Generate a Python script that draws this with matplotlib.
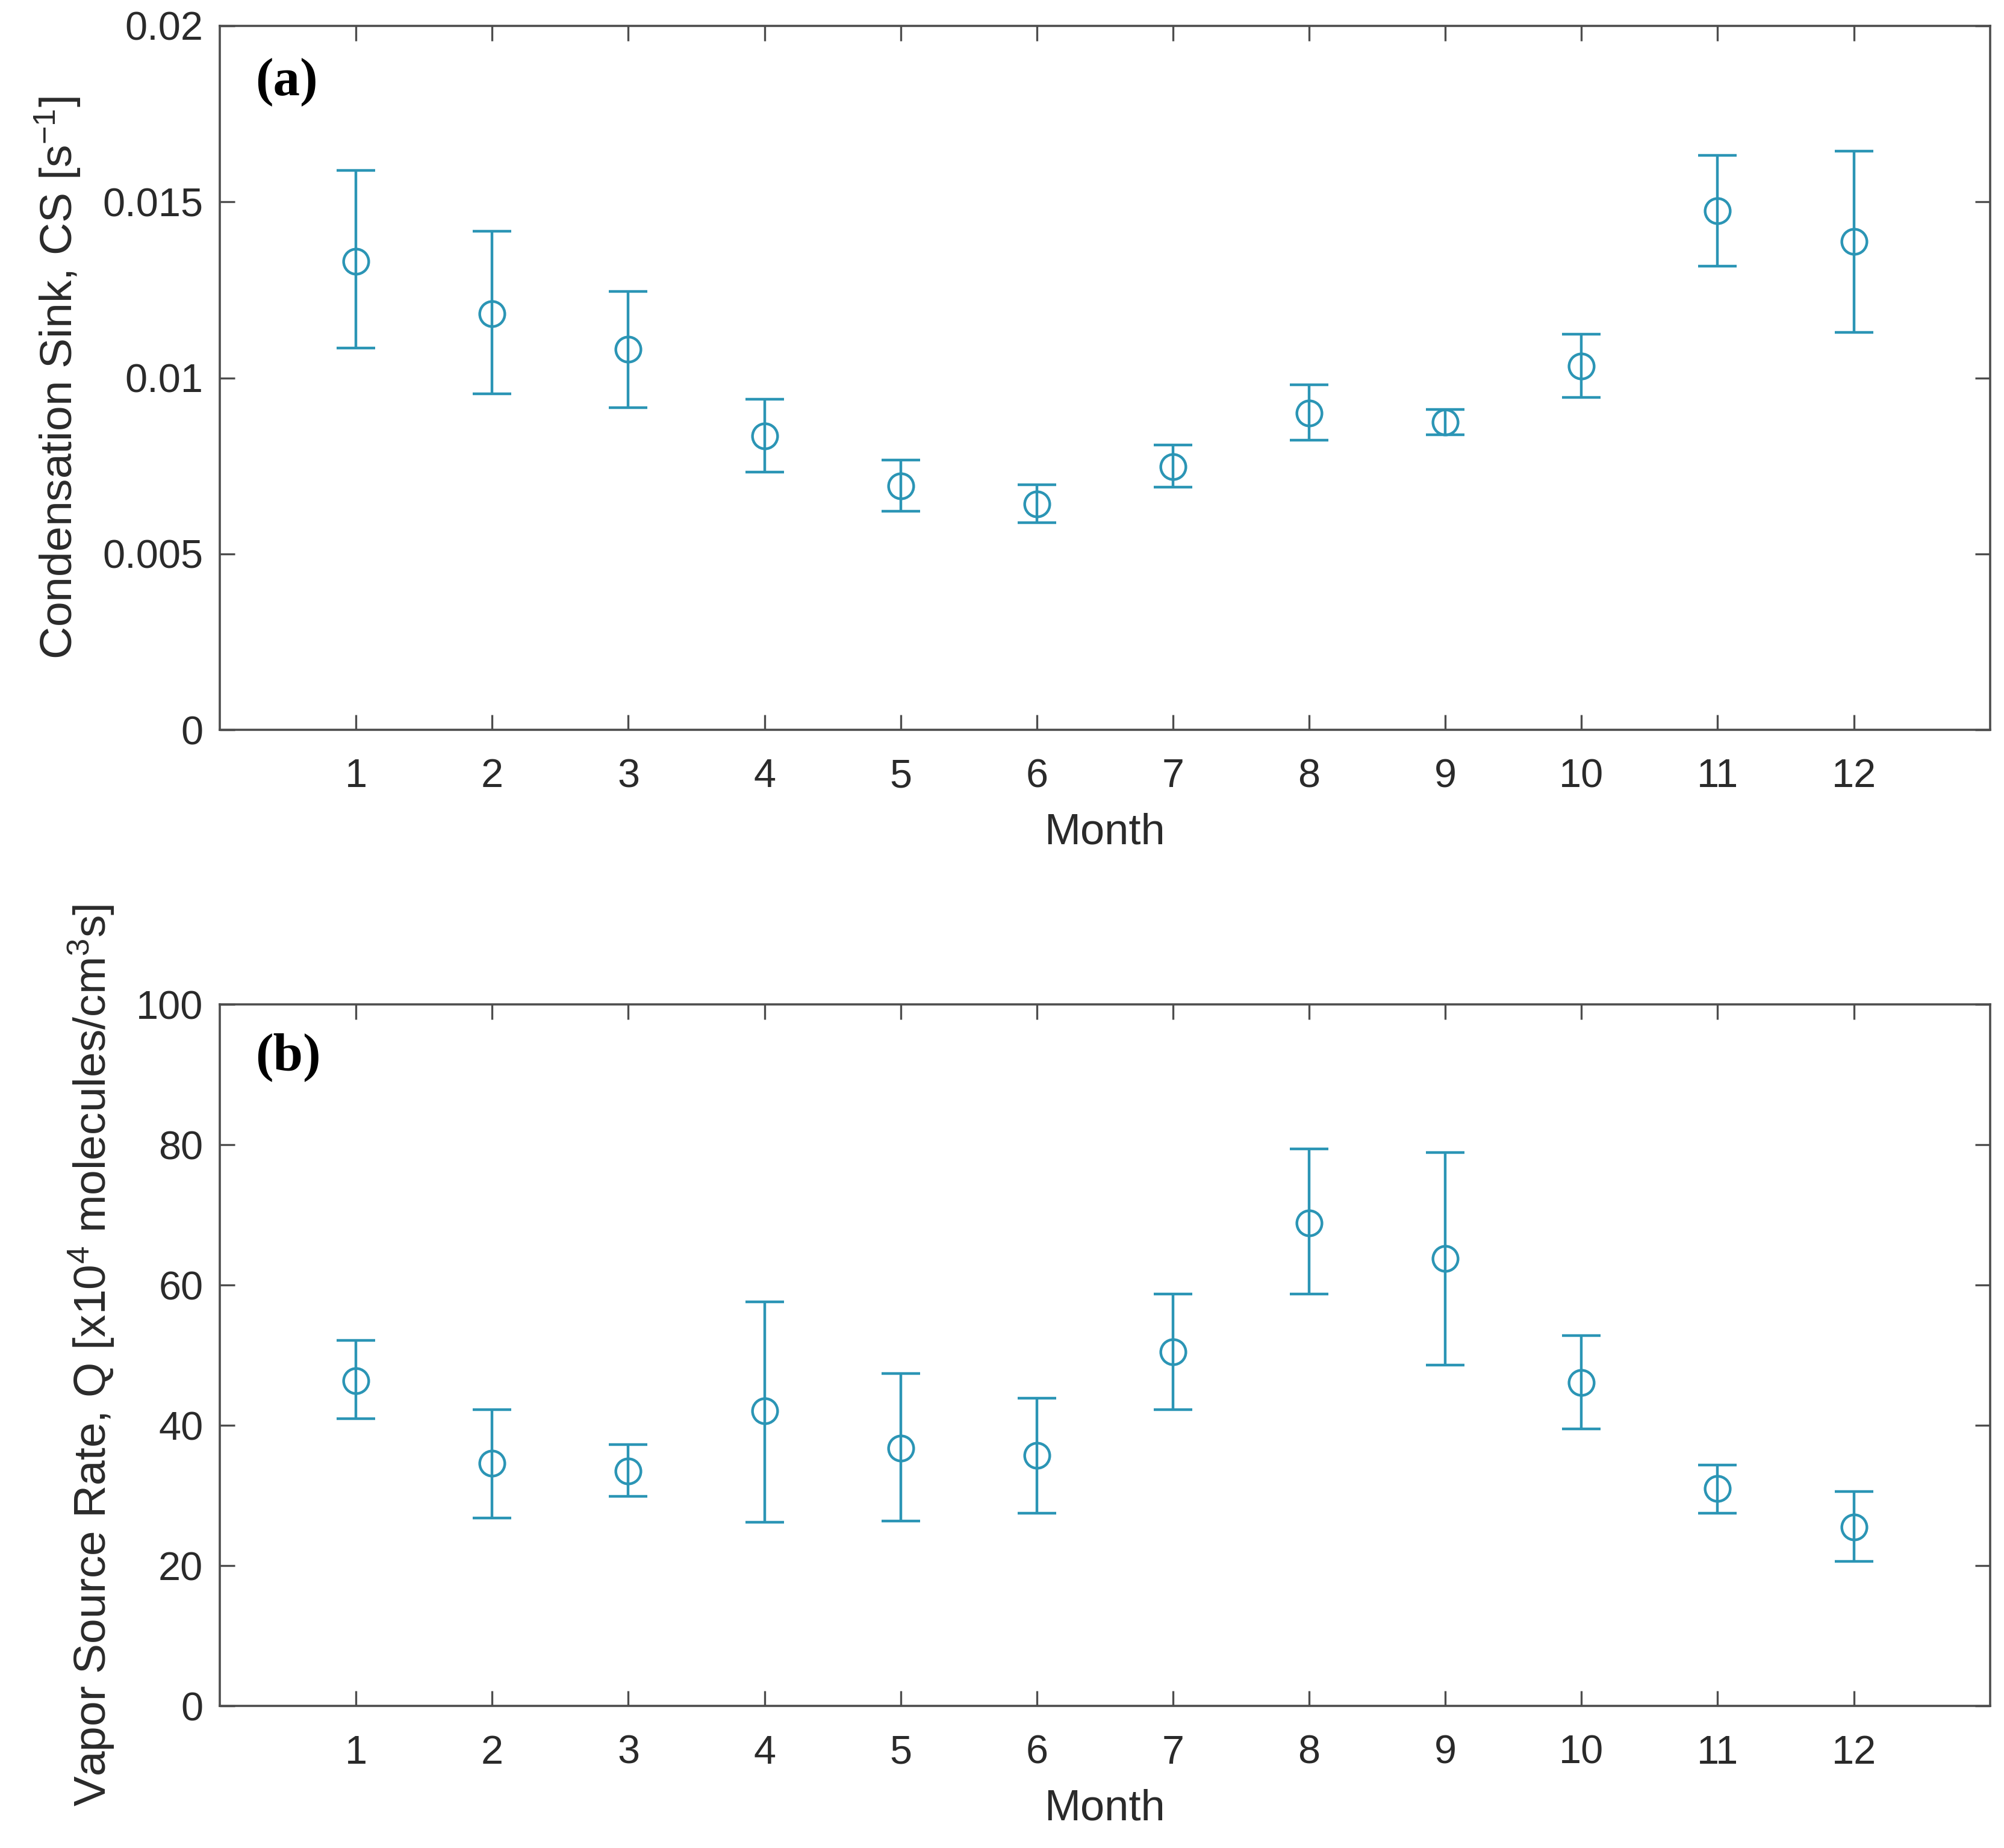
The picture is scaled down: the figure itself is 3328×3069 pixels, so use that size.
import numpy as np
import matplotlib
matplotlib.use("Agg")
from matplotlib import pyplot as plt

plt.rcParams['font.family'] = ['Liberation Sans', 'DejaVu Sans']
plt.rcParams['mathtext.default'] = 'regular'

months = [1, 2, 3, 4, 5, 6, 7, 8, 9, 10, 11, 12]

# (a) condensation sink: mean, upper, lower
cs_mean = [0.01332, 0.01183, 0.01082, 0.00835, 0.00693, 0.00642, 0.00748, 0.00900, 0.00875, 0.01034, 0.01474, 0.01387]
cs_up = [0.01590, 0.01416, 0.01245, 0.00940, 0.00766, 0.00697, 0.00810, 0.00980, 0.00911, 0.01125, 0.01633, 0.01644]
cs_low = [0.01085, 0.00955, 0.00915, 0.00733, 0.00621, 0.00588, 0.00690, 0.00824, 0.00838, 0.00944, 0.01318, 0.01129]

# (b) vapor source rate
q_mean = [46.4, 34.6, 33.5, 42.1, 36.8, 35.7, 50.5, 68.9, 63.8, 46.1, 31.0, 25.5]
q_up = [52.1, 42.3, 37.3, 57.6, 47.4, 43.9, 58.7, 79.4, 78.9, 52.8, 34.4, 30.6]
q_low = [41.0, 26.8, 29.9, 26.2, 26.4, 27.5, 42.3, 58.7, 48.6, 39.5, 27.5, 20.6]

col = '#2b95b5'
axcol = '#4d4d4d'
txtcol = '#2a2a2a'

fig = plt.figure(figsize=(16.64, 15.345), dpi=200)
ax1 = fig.add_axes([0.1097, 0.605, 0.8833, 0.381])
ax2 = fig.add_axes([0.1097, 0.0768, 0.8833, 0.3796])


def draw(ax, m, up, low):
    m = np.array(m)
    err = [m - np.array(low), np.array(up) - m]
    ax.errorbar(months, m, yerr=err, fmt='o', mfc='none', mec=col, ecolor=col,
                ms=15, mew=1.6, elinewidth=1.6, capsize=11.5, capthick=1.6)
    ax.set_xlim(0, 13)
    ax.set_xticks(months)
    ax.tick_params(direction='in', length=9, width=1.2, color=axcol, labelsize=24,
                   labelcolor=txtcol, top=True, right=True, pad=10)
    ax.tick_params(axis='x', pad=17)
    for s in ax.spines.values():
        s.set_color(axcol)
        s.set_linewidth(1.3)
    ax.set_xlabel('Month', fontsize=26, color=txtcol, labelpad=10)


draw(ax1, cs_mean, cs_up, cs_low)
ax1.set_ylim(0, 0.02)
ax1.set_yticks([0, 0.005, 0.01, 0.015, 0.02])
ax1.set_yticklabels(['0', '0.005', '0.01', '0.015', '0.02'])
ax1.set_ylabel('Condensation Sink, CS [s$^{-1}$]', fontsize=27, color=txtcol, labelpad=12)
ax1.text(0.02, 0.955, '(a)', transform=ax1.transAxes, fontsize=32, fontweight='bold',
         family='Liberation Serif', va='top', ha='left')

draw(ax2, q_mean, q_up, q_low)
ax2.set_ylim(0, 100)
ax2.set_yticks([0, 20, 40, 60, 80, 100])
ax2.set_ylabel('Vapor Source Rate, Q [x10$^4$ molecules/cm$^3$s]', fontsize=27,
               color=txtcol, labelpad=12)
ax2.text(0.02, 0.96, '(b)', transform=ax2.transAxes, fontsize=32, fontweight='bold',
         family='Liberation Serif', va='top', ha='left')

fig.savefig('out.png', dpi=200)
